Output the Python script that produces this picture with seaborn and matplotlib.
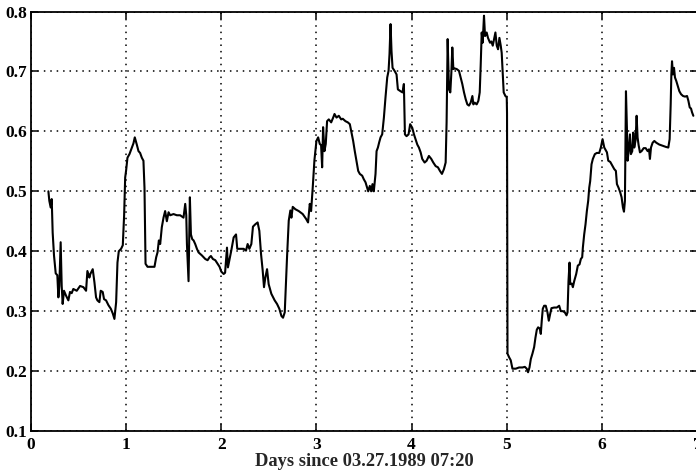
import numpy as np
import pandas as pd
import matplotlib
matplotlib.use("Agg")
import matplotlib.pyplot as plt
import seaborn as sns

# ---- data (days since start, value) ----
t_day0 = [0.183, 0.193, 0.207, 0.218, 0.228, 0.242, 0.260, 0.277, 0.288, 0.298, 0.312, 0.323,
          0.333, 0.347, 0.368, 0.393, 0.410, 0.428, 0.445, 0.481, 0.516, 0.551, 0.579, 0.593,
          0.614, 0.624, 0.649, 0.667, 0.684, 0.698, 0.719, 0.733, 0.754, 0.768, 0.789, 0.814,
          0.839, 0.860, 0.877, 0.895, 0.909, 0.923, 0.947, 0.965, 0.979, 0.990]
v_day0 = [0.500, 0.484, 0.473, 0.487, 0.431, 0.393, 0.363, 0.360, 0.323, 0.342, 0.415, 0.342,
          0.312, 0.334, 0.326, 0.318, 0.332, 0.330, 0.337, 0.334, 0.342, 0.340, 0.334, 0.367,
          0.356, 0.362, 0.370, 0.348, 0.323, 0.318, 0.315, 0.334, 0.332, 0.320, 0.318, 0.310,
          0.304, 0.296, 0.287, 0.315, 0.381, 0.400, 0.404, 0.410, 0.460, 0.523]

t_day1 = [1.000, 1.014, 1.035, 1.060, 1.077, 1.091, 1.112, 1.130, 1.147, 1.165, 1.182, 1.193,
          1.204, 1.225, 1.270, 1.298, 1.316, 1.330, 1.344, 1.358, 1.375, 1.393, 1.410, 1.428,
          1.446, 1.463, 1.498, 1.533, 1.568, 1.603, 1.621, 1.632, 1.639, 1.656, 1.670, 1.681,
          1.695, 1.709, 1.726, 1.744, 1.761, 1.796, 1.832, 1.856, 1.877, 1.891, 1.912, 1.937,
          1.961, 1.982]
v_day1 = [0.535, 0.556, 0.562, 0.573, 0.580, 0.590, 0.578, 0.567, 0.564, 0.556, 0.551, 0.506,
          0.379, 0.374, 0.374, 0.374, 0.390, 0.398, 0.418, 0.412, 0.440, 0.456, 0.467, 0.450,
          0.465, 0.460, 0.462, 0.460, 0.460, 0.456, 0.479, 0.460, 0.412, 0.350, 0.490, 0.428,
          0.420, 0.418, 0.412, 0.404, 0.398, 0.393, 0.387, 0.385, 0.390, 0.392, 0.387, 0.385,
          0.379, 0.374]

t_day2 = [2.000, 2.025, 2.040, 2.060, 2.070, 2.084, 2.105, 2.130, 2.155, 2.168, 2.200, 2.235,
          2.260, 2.277, 2.295, 2.316, 2.333, 2.358, 2.382, 2.400, 2.418, 2.435, 2.449, 2.463,
          2.481, 2.498, 2.526, 2.561, 2.586, 2.610, 2.632, 2.649, 2.667, 2.681, 2.691, 2.709,
          2.726, 2.737, 2.751, 2.779, 2.814, 2.856, 2.891, 2.912, 2.930, 2.944, 2.961, 2.979]
v_day2 = [0.366, 0.362, 0.364, 0.406, 0.373, 0.384, 0.401, 0.423, 0.428, 0.404, 0.404, 0.404,
          0.401, 0.412, 0.404, 0.412, 0.441, 0.445, 0.448, 0.434, 0.395, 0.368, 0.340, 0.356,
          0.370, 0.345, 0.329, 0.318, 0.312, 0.304, 0.292, 0.289, 0.298, 0.351, 0.390, 0.451,
          0.468, 0.456, 0.474, 0.470, 0.467, 0.462, 0.454, 0.448, 0.479, 0.467, 0.506, 0.552]

t_day3 = [3.000, 3.018, 3.035, 3.049, 3.060, 3.070, 3.084, 3.098, 3.112, 3.130, 3.155, 3.176,
          3.190, 3.211, 3.235, 3.260, 3.277, 3.305, 3.330, 3.351, 3.368, 3.386, 3.403, 3.421,
          3.439, 3.456, 3.481, 3.498, 3.516, 3.533, 3.544, 3.561, 3.575, 3.589, 3.603, 3.621,
          3.632, 3.646, 3.660, 3.674, 3.691, 3.709, 3.726, 3.744, 3.758, 3.768, 3.779, 3.789,
          3.800, 3.821, 3.842, 3.856, 3.884, 3.905, 3.919, 3.930, 3.947, 3.968, 3.985]
v_day3 = [0.584, 0.590, 0.579, 0.577, 0.540, 0.607, 0.567, 0.579, 0.617, 0.620, 0.615, 0.623,
          0.629, 0.623, 0.626, 0.620, 0.621, 0.617, 0.615, 0.612, 0.598, 0.584, 0.567, 0.551,
          0.534, 0.529, 0.526, 0.520, 0.515, 0.506, 0.500, 0.509, 0.500, 0.512, 0.500, 0.529,
          0.567, 0.573, 0.582, 0.590, 0.595, 0.623, 0.657, 0.690, 0.701, 0.729, 0.779, 0.734,
          0.706, 0.701, 0.695, 0.670, 0.667, 0.665, 0.679, 0.595, 0.592, 0.595, 0.612]

t_day4 = [4.007, 4.025, 4.042, 4.060, 4.077, 4.095, 4.112, 4.137, 4.158, 4.182, 4.207, 4.228,
          4.253, 4.277, 4.298, 4.319, 4.340, 4.358, 4.368, 4.379, 4.393, 4.407, 4.418, 4.428,
          4.439, 4.453, 4.474, 4.498, 4.516, 4.533, 4.551, 4.568, 4.586, 4.603, 4.621, 4.639,
          4.649, 4.663, 4.684, 4.702, 4.716, 4.726, 4.737, 4.747, 4.761, 4.772, 4.789, 4.803,
          4.824, 4.838, 4.853, 4.867, 4.881, 4.895, 4.909, 4.923, 4.937, 4.947, 4.958, 4.968,
          4.986]
v_day4 = [0.606, 0.595, 0.587, 0.578, 0.573, 0.565, 0.554, 0.548, 0.551, 0.559, 0.554, 0.548,
          0.542, 0.540, 0.534, 0.529, 0.537, 0.548, 0.615, 0.754, 0.670, 0.665, 0.698, 0.740,
          0.704, 0.705, 0.704, 0.701, 0.690, 0.679, 0.665, 0.654, 0.645, 0.643, 0.648, 0.659,
          0.645, 0.648, 0.645, 0.651, 0.665, 0.709, 0.765, 0.748, 0.793, 0.759, 0.765, 0.756,
          0.748, 0.750, 0.743, 0.754, 0.765, 0.743, 0.737, 0.756, 0.743, 0.731, 0.698, 0.665,
          0.659]

t_day5 = [5.000, 5.003, 5.008, 5.025, 5.042, 5.060, 5.095, 5.130, 5.165, 5.190, 5.210, 5.224,
          5.239, 5.253, 5.270, 5.288, 5.302, 5.316, 5.330, 5.347, 5.358, 5.368, 5.379, 5.393,
          5.410, 5.428, 5.442, 5.456, 5.470, 5.498, 5.526, 5.551, 5.568, 5.589, 5.610, 5.628,
          5.639, 5.649, 5.660, 5.667, 5.684, 5.695, 5.709, 5.730, 5.747, 5.765, 5.779, 5.793,
          5.800, 5.814, 5.828, 5.842, 5.856, 5.867, 5.877, 5.891, 5.905, 5.926, 5.947, 5.972,
          5.989]
v_day5 = [0.657, 0.630, 0.229, 0.223, 0.218, 0.204, 0.204, 0.206, 0.206, 0.207, 0.204, 0.198,
          0.206, 0.220, 0.229, 0.240, 0.256, 0.269, 0.273, 0.271, 0.262, 0.284, 0.304, 0.309,
          0.309, 0.298, 0.284, 0.295, 0.305, 0.306, 0.306, 0.309, 0.300, 0.300, 0.298, 0.293,
          0.298, 0.350, 0.381, 0.345, 0.346, 0.340, 0.350, 0.362, 0.376, 0.378, 0.387, 0.390,
          0.406, 0.428, 0.445, 0.467, 0.484, 0.506, 0.517, 0.545, 0.554, 0.562, 0.564, 0.564,
          0.573]

t_day6 = [6.007, 6.025, 6.053, 6.067, 6.088, 6.112, 6.130, 6.147, 6.158, 6.175, 6.193, 6.207,
          6.221, 6.232, 6.242, 6.253, 6.263, 6.270, 6.281, 6.295, 6.305, 6.319, 6.330, 6.340,
          6.354, 6.365, 6.375, 6.386, 6.400, 6.417, 6.439, 6.460, 6.481, 6.495, 6.505, 6.516,
          6.533, 6.551, 6.572, 6.603, 6.639, 6.674, 6.698, 6.712, 6.723, 6.730, 6.737, 6.747,
          6.758, 6.768, 6.782, 6.797, 6.814, 6.832, 6.853, 6.874, 6.895, 6.909, 6.923, 6.937,
          6.947, 6.961]
v_day6 = [0.587, 0.573, 0.565, 0.551, 0.549, 0.542, 0.537, 0.534, 0.512, 0.506, 0.498, 0.490,
          0.473, 0.466, 0.484, 0.667, 0.606, 0.551, 0.567, 0.595, 0.562, 0.567, 0.598, 0.573,
          0.585, 0.626, 0.590, 0.577, 0.565, 0.567, 0.572, 0.572, 0.567, 0.570, 0.554, 0.573,
          0.581, 0.584, 0.581, 0.578, 0.576, 0.574, 0.573, 0.587, 0.645, 0.695, 0.717, 0.695,
          0.706, 0.690, 0.684, 0.676, 0.667, 0.662, 0.659, 0.658, 0.659, 0.651, 0.640, 0.638,
          0.632, 0.626]

x_ticks = [0, 1, 2, 3, 4, 5, 6, 7]
x_ticklabels = ["0", "1", "2", "3", "4", "5", "6", "7"]
y_ticks = [0.1, 0.2, 0.3, 0.4, 0.5, 0.6, 0.7, 0.8]
y_ticklabels = ["0.1", "0.2", "0.3", "0.4", "0.5", "0.6", "0.7", "0.8"]
x_label = "Days since 03.27.1989 07:20"

df = pd.DataFrame({
    "t": t_day0 + t_day1 + t_day2 + t_day3 + t_day4 + t_day5 + t_day6,
    "v": v_day0 + v_day1 + v_day2 + v_day3 + v_day4 + v_day5 + v_day6,
})

sns.set_style("ticks")
plt.rcParams["font.family"] = ["Liberation Serif", "DejaVu Serif"]

fig = plt.figure(figsize=(6.96, 4.70), dpi=100)
ax = fig.add_axes([0.0445, 0.083, 0.957, 0.8925])

sns.lineplot(data=df, x="t", y="v", sort=False, estimator=None,
             color="black", linewidth=1.5, ax=ax)

ax.set_xlim(0, 7)
ax.set_ylim(0.1, 0.8)
ax.set_xticks(x_ticks)
ax.set_xticklabels(x_ticklabels)
ax.set_yticks(y_ticks)
ax.set_yticklabels(y_ticklabels)
ax.grid(True, color="black", linestyle=(0, (1, 3.2)), linewidth=1.1)
ax.tick_params(direction="in", length=5, width=1.1, top=True, right=True,
               labelsize=12.5, colors="black")
ax.tick_params(axis="x", pad=4)
ax.tick_params(axis="y", pad=3)
for lab in ax.get_xticklabels() + ax.get_yticklabels():
    lab.set_fontweight("bold")
for s in ax.spines.values():
    s.set_linewidth(1.3)
    s.set_color("black")
ax.set_xlabel(x_label, fontsize=13.3, fontweight="bold", labelpad=0)
ax.set_ylabel("")

fig.savefig("out.png", dpi=100)
